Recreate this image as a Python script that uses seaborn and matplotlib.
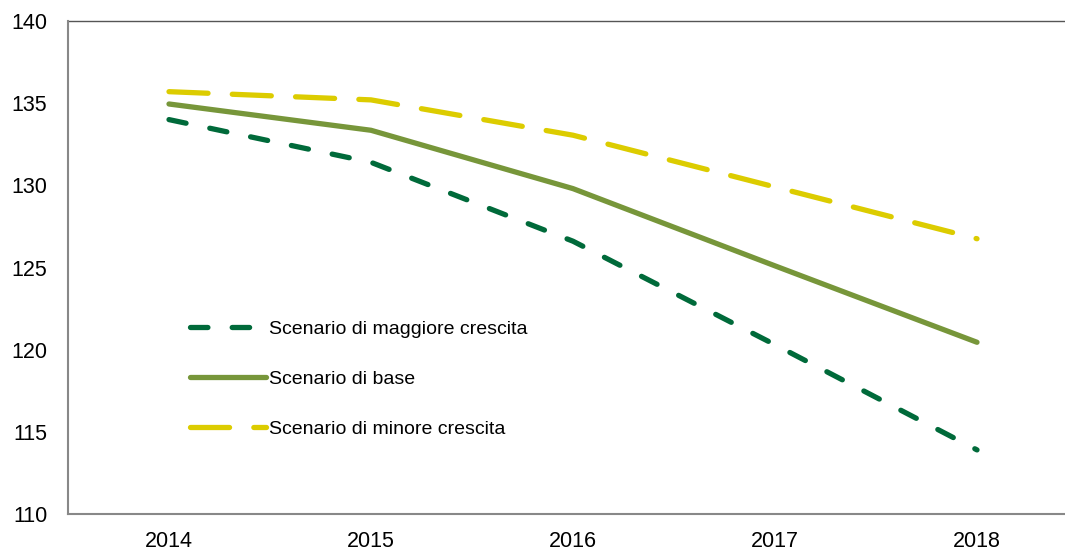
import matplotlib
matplotlib.use("Agg")
import matplotlib.pyplot as plt
import seaborn as sns
import pandas as pd
import numpy as np

years = ["2014", "2015", "2016", "2017", "2018"]
maggiore = [134.0, 131.4, 126.6, 120.3, 113.9]
base = [134.95, 133.35, 129.8, 125.1, 120.45]
minore = [135.7, 135.2, 133.05, 129.9, 126.75]

series_names = ["Scenario di maggiore crescita", "Scenario di base", "Scenario di minore crescita"]
series_vals = [maggiore, base, minore]
colors = ["#006A3A", "#77963A", "#DCCC00"]

rows = []
for name, vals in zip(series_names, series_vals):
    for i, v in enumerate(vals):
        rows.append({"x": i, "value": v, "series": name})
df = pd.DataFrame(rows)

sns.set_style("white")
plt.rcParams["font.family"] = ["Liberation Sans", "DejaVu Sans"]
plt.rcParams["text.color"] = "black"
plt.rcParams["lines.dash_capstyle"] = "round"
plt.rcParams["lines.solid_capstyle"] = "round"

fig = plt.figure(figsize=(10.65, 5.5), dpi=100)
ax = fig.add_axes([68/1065, 1 - 514/550, 1010/1065, (514 - 21)/550])

lw = 3.8
sns.lineplot(data=df, x="x", y="value", hue="series", style="series",
             hue_order=series_names, style_order=series_names,
             palette=dict(zip(series_names, colors)),
             dashes={series_names[0]: (3.3, 4.6), series_names[1]: "", series_names[2]: (7.4, 4.6)},
             linewidth=lw, sort=False, ax=ax, legend=True)

ax.set_xlim(-0.5, 4.5)
ax.set_ylim(110, 140)
ax.set_yticks([110, 115, 120, 125, 130, 135, 140])
ax.set_xticks(range(len(years)))
ax.set_xticklabels(years)
ax.set_xticks(np.arange(0.5, 4.6, 1.0), minor=True)
ax.tick_params(axis="x", which="major", length=0, labelsize=15.5, pad=12, colors="black")
ax.tick_params(axis="x", which="minor", length=6, width=1.2, color="#888888", direction="out")
ax.tick_params(axis="y", which="major", length=6, width=1.2, color="#888888", direction="out",
               labelsize=15.5, pad=9, labelcolor="black")
ax.set_xlabel("")
ax.set_ylabel("")

for s in ["top", "right"]:
    ax.spines[s].set_visible(False)
for s in ["left", "bottom"]:
    ax.spines[s].set_color("#888888")
    ax.spines[s].set_linewidth(1.5)
ax.axhline(140, color="#555555", linewidth=1.0, clip_on=False)

handles, labels = ax.get_legend_handles_labels()
leg = ax.legend(handles, labels, loc="center left",
                bbox_to_anchor=(190/1065, 1 - 379/550), bbox_transform=fig.transFigure,
                frameon=False, fontsize=14, handlelength=3.9, handletextpad=0.15,
                labelspacing=1.65, borderpad=0, borderaxespad=0)
for line in leg.get_lines():
    line.set_linewidth(lw)
for t in leg.get_texts():
    t.set_color("black")

fig.savefig("out.png", dpi=100)
